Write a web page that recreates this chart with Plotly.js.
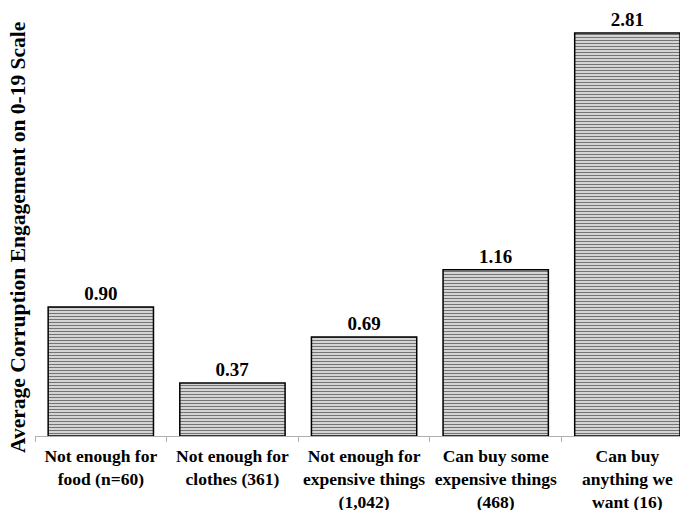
<!DOCTYPE html>
<html><head><meta charset="utf-8">
<script src="https://cdn.plot.ly/plotly-3.0.1.min.js"></script>
<style>html,body{margin:0;padding:0;background:#fff}</style>
</head><body><div id="chart" style="width:680px;height:510px"></div>
<script>
const categories = [
  "Not enough for<br>food (n=60)",
  "Not enough for<br>clothes (361)",
  "Not enough for<br>expensive things<br>(1,042)",
  "Can buy some<br>expensive things<br>(468)",
  "Can buy<br>anything we<br>want (16)"
];
const values = [0.90, 0.37, 0.69, 1.16, 2.81];
const valueLabels = ["0.90", "0.37", "0.69", "1.16", "2.81"];
const yTitle = "Average Corruption Engagement on 0-19 Scale";

const font = "Liberation Serif, Times New Roman, serif";
Plotly.newPlot("chart", [{
  type: "bar",
  x: categories,
  y: values,
  text: valueLabels,
  texttemplate: "<b>%{text}</b>",
  textposition: "outside",
  cliponaxis: false,
  textfont: {family: font, size: 19, color: "#000"},
  marker: {
    color: "#d8d8d8",
    line: {color: "#000", width: 1.5},
    pattern: {shape: "-", fgcolor: "#747474", bgcolor: "#d4d4d4", size: 3, solidity: 0.35}
  },
  hoverinfo: "skip"
}], {
  width: 680, height: 510,
  margin: {l: 35, r: 0, t: 0, b: 74},
  paper_bgcolor: "#fff", plot_bgcolor: "#fff",
  bargap: 0.2,
  showlegend: false,
  font: {family: font, color: "#000"},
  xaxis: {
    range: [-0.5, 4.4],
    showline: true, linecolor: "#b0b0b0", linewidth: 1,
    ticks: "outside", tickson: "boundaries", ticklen: 5, tickcolor: "#b0b0b0",
    tickfont: {family: font, size: 17.5, color: "#000"},
    tickprefix: "<b>", ticksuffix: "</b>",
    ticklabelstandoff: 4,
    showgrid: false, zeroline: false, automargin: false
  },
  yaxis: {
    range: [0, 3.04],
    showticklabels: false, showgrid: false, zeroline: false, showline: false, ticks: "",
    automargin: false
  },
  annotations: [{
    text: "<b>" + yTitle + "</b>",
    xref: "paper", yref: "paper",
    x: 0, y: (436 - 238) / 436,
    xanchor: "center", yanchor: "middle",
    xshift: -17,
    textangle: -90, showarrow: false,
    font: {family: font, size: 21.5, color: "#000"}
  }]
}, {staticPlot: true});
</script></body></html>
